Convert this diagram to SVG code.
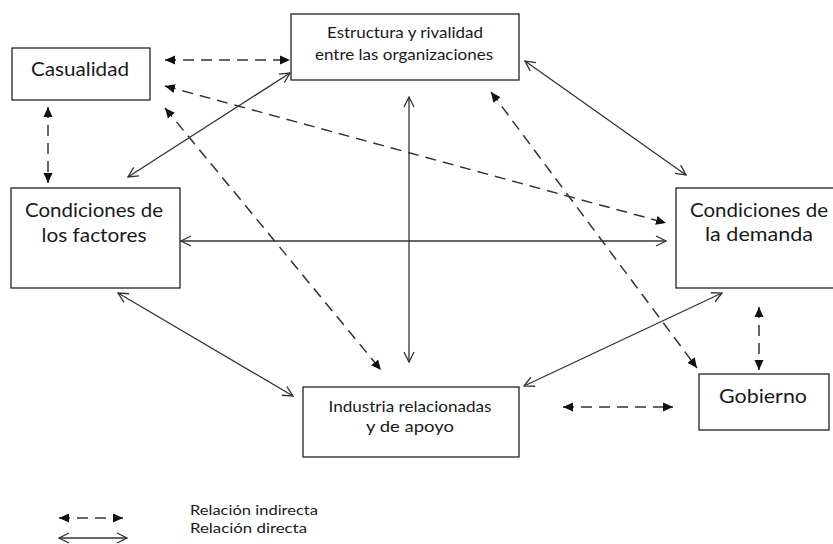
<svg xmlns="http://www.w3.org/2000/svg" width="833" height="544" viewBox="0 0 833 544">
<defs>
<style>
.box{fill:#fff;stroke:#222;stroke-width:1.3}
.t{font-family:Lato,"Liberation Sans",sans-serif;fill:#1a1a1a;text-anchor:middle}
.l{font-family:Lato,"Liberation Sans",sans-serif;fill:#1a1a1a;font-size:14px}
.s{fill:none;stroke:#333;stroke-width:1.3;marker-start:url(#open);marker-end:url(#open)}
.d{fill:none;stroke:#333;stroke-width:1.5;stroke-dasharray:11,7;marker-start:url(#fill);marker-end:url(#fill)}
</style>
<marker id="open" viewBox="0 0 12 12" refX="11" refY="6" markerWidth="12" markerHeight="12" markerUnits="userSpaceOnUse" orient="auto-start-reverse">
<path d="M1,1 L11,6 L1,11" fill="none" stroke="#333" stroke-width="1.3"/>
</marker>
<marker id="fill" viewBox="0 0 10 10" refX="10" refY="5" markerWidth="10" markerHeight="10" markerUnits="userSpaceOnUse" orient="auto-start-reverse">
<path d="M0,0.5 L10,5 L0,9.5 Z" fill="#111"/>
</marker>
</defs>
<rect width="833" height="544" fill="#fff"/>
<g id="connectors">
<line class="d" x1="165" y1="60" x2="290" y2="60"/>
<line class="d" x1="165" y1="86" x2="666" y2="223"/>
<line class="d" x1="165" y1="108" x2="381" y2="370"/>
<line class="d" x1="48" y1="107" x2="48" y2="183"/>
<line class="s" x1="128" y1="177" x2="290" y2="73"/>
<line class="s" x1="525" y1="61" x2="686" y2="175"/>
<line class="s" x1="181" y1="241" x2="666" y2="241"/>
<line class="s" x1="409" y1="97" x2="409" y2="362"/>
<line class="d" x1="491" y1="92" x2="697" y2="368"/>
<line class="s" x1="118" y1="293" x2="293" y2="396"/>
<line class="s" x1="524" y1="386" x2="722" y2="293"/>
<line class="d" x1="759" y1="307" x2="759" y2="370"/>
<line class="d" x1="563" y1="407" x2="673" y2="407"/>
</g>
<g id="casualidad">
<rect class="box" x="12" y="48" width="138" height="52"/>
<text class="t" x="80" y="76" font-size="19" textLength="98" lengthAdjust="spacingAndGlyphs">Casualidad</text>
</g>
<g id="estructura">
<rect class="box" x="291" y="14" width="228" height="66"/>
<text class="t" x="405" y="38" font-size="15" textLength="156" lengthAdjust="spacingAndGlyphs">Estructura y rivalidad</text>
<text class="t" x="404" y="60" font-size="15" textLength="178" lengthAdjust="spacingAndGlyphs">entre las organizaciones</text>
</g>
<g id="factores">
<rect class="box" x="11" y="188" width="169" height="100"/>
<text class="t" x="94" y="217" font-size="20" textLength="138" lengthAdjust="spacingAndGlyphs">Condiciones de</text>
<text class="t" x="94" y="242" font-size="20" textLength="105" lengthAdjust="spacingAndGlyphs">los factores</text>
</g>
<g id="demanda">
<rect class="box" x="676" y="188" width="158" height="100"/>
<text class="t" x="759" y="217" font-size="20" textLength="138" lengthAdjust="spacingAndGlyphs">Condiciones de</text>
<text class="t" x="759" y="241" font-size="20" textLength="108" lengthAdjust="spacingAndGlyphs">la demanda</text>
</g>
<g id="industria">
<rect class="box" x="303" y="387" width="216" height="70"/>
<text class="t" x="410" y="412" font-size="15" textLength="163" lengthAdjust="spacingAndGlyphs">Industria relacionadas</text>
<text class="t" x="410" y="432" font-size="15" textLength="88" lengthAdjust="spacingAndGlyphs">y de apoyo</text>
</g>
<g id="gobierno">
<rect class="box" x="699" y="374" width="130" height="56"/>
<text class="t" x="763" y="403" font-size="19" textLength="88" lengthAdjust="spacingAndGlyphs">Gobierno</text>
</g>
<g id="legend">
<line class="d" x1="59" y1="518" x2="123" y2="518" stroke-dasharray="8,6"/>
<line class="s" x1="59" y1="538" x2="127" y2="538"/>
<text class="l" x="190" y="515" textLength="128" lengthAdjust="spacingAndGlyphs">Relación indirecta</text>
<text class="l" x="190" y="533" textLength="117" lengthAdjust="spacingAndGlyphs">Relación directa</text>
</g>
</svg>
